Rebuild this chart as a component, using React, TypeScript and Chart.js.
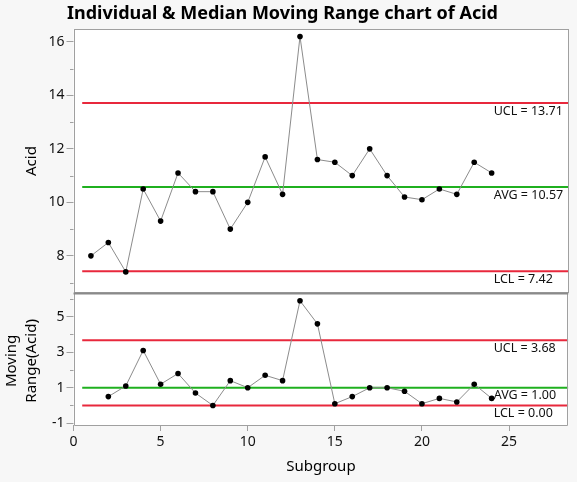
import React, { useEffect, useRef } from "react";
import { Chart, registerables } from "chart.js";

Chart.register(...registerables);

const chartTitle = "Individual & Median Moving Range chart of Acid";
const xTitle = "Subgroup";
const topYTitle = ["Acid"];
const bottomYTitle = ["Moving", "Range(Acid)"];

const subgroups = [1, 2, 3, 4, 5, 6, 7, 8, 9, 10, 11, 12, 13, 14, 15, 16, 17, 18, 19, 20, 21, 22, 23, 24];
const acidValues = [8.0, 8.5, 7.4, 10.5, 9.3, 11.1, 10.4, 10.4, 9.0, 10.0, 11.7, 10.3, 16.2, 11.6, 11.5, 11.0, 12.0, 11.0, 10.2, 10.1, 10.5, 10.3, 11.5, 11.1];
const movingRanges = [null, 0.5, 1.1, 3.1, 1.2, 1.8, 0.7, 0.0, 1.4, 1.0, 1.7, 1.4, 5.9, 4.6, 0.1, 0.5, 1.0, 1.0, 0.8, 0.1, 0.4, 0.2, 1.2, 0.4];

const limitNames = ["UCL", "AVG", "LCL"];
const individualLimits = [13.71, 10.57, 7.42];
const rangeLimits = [3.68, 1.0, 0.0];
const limitColors = ["#e8283c", "#1fb01f", "#e8283c"];
const limitStart = 0.5;

const individualTicks = [8, 10, 12, 14, 16];
const individualMinorTicks = [7, 9, 11, 13, 15];
const rangeTicks = [-1, 1, 3, 5];
const rangeMinorTicks = [0, 2, 4, 6];
const subgroupTicks = [0, 5, 10, 15, 20, 25];

const X_MIN = 0;
const X_MAX = 28.4;
const TOP_MIN = 6.62;
const TOP_MAX = 16.47;
const BOT_MIN = -1.1;
const BOT_MAX = 6.35;

const FONT = "'Noto Sans', 'Open Sans', sans-serif";
const FRAME = "#a0a0a0";
const TEXT = "#111";

function limitDatasets(values: number[], axis: string, digits: number) {
  return values.map((v, i) => ({
    label: `${limitNames[i]} = ${v.toFixed(digits)}`,
    data: [
      { x: limitStart, y: v },
      { x: X_MAX, y: v },
    ],
    yAxisID: axis,
    borderColor: limitColors[i],
    borderWidth: 2,
    pointRadius: 0,
    order: 2,
  }));
}

const spcPlugin = {
  id: "spcDecor",
  beforeDatasetsDraw(chart: any) {
    const { ctx, chartArea } = chart;
    ctx.save();
    ctx.fillStyle = "#ffffff";
    ctx.fillRect(chartArea.left, chartArea.top, chartArea.right - chartArea.left, chartArea.bottom - chartArea.top);
    ctx.restore();
  },
  afterDraw(chart: any) {
    const { ctx, chartArea } = chart;
    const xs = chart.scales.x;
    const yt = chart.scales.y;
    const yb = chart.scales.y2;
    const L = chartArea.left;
    const R = chartArea.right;
    ctx.save();

    // minor ticks
    ctx.strokeStyle = FRAME;
    ctx.lineWidth = 1;
    const minor = (scale: any, vals: number[]) => {
      vals.forEach((v) => {
        const py = Math.round(scale.getPixelForValue(v)) + 0.5;
        ctx.beginPath();
        ctx.moveTo(L - 3.5, py);
        ctx.lineTo(L, py);
        ctx.stroke();
      });
    };
    minor(yt, individualMinorTicks);
    minor(yb, rangeMinorTicks);

    // frames
    ctx.strokeStyle = FRAME;
    ctx.lineWidth = 1;
    ctx.strokeRect(Math.round(L) + 0.5, Math.round(yt.top) + 0.5, Math.round(R - L) - 1, Math.round(yt.bottom - yt.top));
    ctx.beginPath();
    ctx.moveTo(Math.round(L) + 0.5, yb.top);
    ctx.lineTo(Math.round(L) + 0.5, Math.round(yb.bottom) + 0.5);
    ctx.lineTo(Math.round(R) - 0.5, Math.round(yb.bottom) + 0.5);
    ctx.lineTo(Math.round(R) - 0.5, yb.top);
    ctx.stroke();
    ctx.strokeStyle = "#8a8a8a";
    ctx.lineWidth = 2;
    ctx.beginPath();
    ctx.moveTo(L, Math.round(yt.bottom) + 0.5);
    ctx.lineTo(R, Math.round(yt.bottom) + 0.5);
    ctx.stroke();

    // limit labels
    ctx.fillStyle = TEXT;
    ctx.font = `12.5px ${FONT}`;
    ctx.textAlign = "left";
    ctx.textBaseline = "middle";
    const lx = xs.getPixelForValue(subgroups[subgroups.length - 1]) + 2;
    individualLimits.forEach((v, i) => {
      ctx.fillText(`${limitNames[i]} = ${v.toFixed(2)}`, lx, yt.getPixelForValue(v) + 8);
    });
    rangeLimits.forEach((v, i) => {
      ctx.fillText(`${limitNames[i]} = ${v.toFixed(2)}`, lx, yb.getPixelForValue(v) + 8);
    });

    // chart title
    ctx.fillStyle = "#000";
    ctx.font = `bold 18px ${FONT}`;
    ctx.textAlign = "center";
    ctx.fillText(chartTitle, 282.5, 14);

    // axis titles
    ctx.font = `15px ${FONT}`;
    ctx.fillStyle = "#000";
    ctx.textAlign = "center";
    ctx.fillText(xTitle, (L + R) / 2, 467);

    const drawRot = (lines: string[], cy: number, lastX: number) => {
      const gap = 20;
      lines.forEach((t, i) => {
        const x = lastX - (lines.length - 1 - i) * gap;
        ctx.save();
        ctx.translate(x, cy);
        ctx.rotate(-Math.PI / 2);
        ctx.fillText(t, 0, 0);
        ctx.restore();
      });
    };
    drawRot(topYTitle, (yt.top + yt.bottom) / 2, 32);
    drawRot(bottomYTitle, (yb.top + yb.bottom) / 2 + 2, 32);

    ctx.restore();
  },
};

export default function App() {
  const ref = useRef<HTMLCanvasElement | null>(null);

  useEffect(() => {
    if (!ref.current) return;
    const tickFont = { family: FONT, size: 14 };
    const chart = new Chart(ref.current, {
      type: "line",
      data: {
        datasets: [
          {
            label: "Acid",
            data: subgroups.map((s, i) => ({ x: s, y: acidValues[i] })),
            yAxisID: "y",
            borderColor: "#8c8c8c",
            borderWidth: 1,
            pointRadius: 2.8,
            pointBackgroundColor: "#000",
            pointBorderColor: "#000",
            pointBorderWidth: 0,
            order: 0,
          },
          {
            label: "Moving Range(Acid)",
            data: subgroups.map((s, i) => ({ x: s, y: movingRanges[i] })),
            yAxisID: "y2",
            borderColor: "#8c8c8c",
            borderWidth: 1,
            pointRadius: 2.8,
            pointBackgroundColor: "#000",
            pointBorderColor: "#000",
            pointBorderWidth: 0,
            spanGaps: false,
            order: 0,
          },
          ...limitDatasets(individualLimits, "y", 2),
          ...limitDatasets(rangeLimits, "y2", 2),
        ] as any,
      },
      options: {
        animation: false,
        responsive: true,
        maintainAspectRatio: false,
        layout: { padding: { top: 29.3, right: 8.7, left: 0, bottom: 0 } },
        plugins: {
          legend: { display: false },
          title: { display: false },
          tooltip: { enabled: false },
        },
        scales: {
          x: {
            type: "linear",
            min: X_MIN,
            max: X_MAX,
            afterBuildTicks: (s: any) => {
              s.ticks = subgroupTicks.map((v) => ({ value: v }));
            },
            afterFit: (s: any) => {
              s.height = 57;
            },
            grid: { drawOnChartArea: false, tickLength: 6, color: FRAME },
            border: { display: false },
            ticks: { font: tickFont, color: TEXT, padding: 3, maxRotation: 0, autoSkip: false },
          },
          y2: {
            type: "linear",
            position: "left",
            stack: "spc",
            stackWeight: 132,
            min: BOT_MIN,
            max: BOT_MAX,
            afterBuildTicks: (s: any) => {
              s.ticks = rangeTicks.map((v) => ({ value: v }));
            },
            afterFit: (s: any) => {
              s.width = 73.5;
            },
            grid: { drawOnChartArea: false, tickLength: 7, color: FRAME },
            border: { display: false },
            ticks: { font: tickFont, color: TEXT, padding: 2, autoSkip: false },
          },
          y: {
            type: "linear",
            position: "left",
            stack: "spc",
            stackWeight: 263,
            min: TOP_MIN,
            max: TOP_MAX,
            afterBuildTicks: (s: any) => {
              s.ticks = individualTicks.map((v) => ({ value: v }));
            },
            afterFit: (s: any) => {
              s.width = 73.5;
            },
            grid: { drawOnChartArea: false, tickLength: 7, color: FRAME },
            border: { display: false },
            ticks: { font: tickFont, color: TEXT, padding: 2, autoSkip: false },
          },
        },
      } as any,
      plugins: [spcPlugin],
    });
    return () => chart.destroy();
  }, []);

  return (
    <div style={{ position: "fixed", left: 0, top: 0, width: 577, height: 482, background: "#f7f7f7" }}>
      <canvas ref={ref} />
    </div>
  );
}
